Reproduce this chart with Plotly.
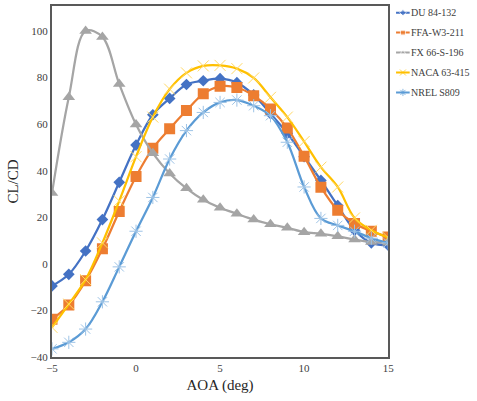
import plotly.graph_objects as go

aoa = list(range(-5, 16))

du_84_132 = [-9.5, -4.5, 5.5, 19, 35, 51, 64, 71, 77, 78.6, 79.5, 77.8, 72.5, 64.5, 56, 46, 35.8, 25, 14.4, 9, 8]
ffa_w3_211 = [-23.8, -17.7, -7.3, 6.5, 22.5, 37.5, 49.6, 58, 65.8, 73, 76.2, 75.7, 72.2, 66.5, 58.3, 46.2, 32.9, 23, 17.3, 14, 11.5]
fx_66_s_196 = [30.4, 71.5, 100, 97.4, 77.2, 59.8, 47.5, 38.8, 32.4, 27.5, 24.1, 21.5, 19, 17, 15.5, 13.6, 12.9, 11.8, 10.4, 9.4, 9]
naca_63_415 = [-27.3, -17.3, -6.8, 9, 27, 46, 63, 75, 82, 85, 85.2, 83.8, 79.8, 71.5, 63, 52.5, 41.5, 33, 19.7, 14.4, 11.3]
nrel_s809 = [-36.5, -33.7, -28, -16.3, -1.3, 14, 28.5, 45, 57.2, 65, 69.3, 70.3, 67.9, 63.6, 52.2, 33, 19.5, 16.5, 14, 11, 9]

series_names = ["DU 84-132", "FFA-W3-211", "FX 66-S-196", "NACA 63-415", "NREL S809"]
series_values = [du_84_132, ffa_w3_211, fx_66_s_196, naca_63_415, nrel_s809]

styles = [
    ("#4472C4", "diamond", 9, "#4472C4"),
    ("#ED7D31", "square", 11, "#ED7D31"),
    ("#A5A5A5", "triangle-up", 11, "#A5A5A5"),
    ("#FFC000", "x-thin-open", 11, "#FFD966"),
    ("#5B9BD5", "asterisk-open", 11, "#9DC3E6"),
]

FONT = "Liberation Serif"

W, H = 477, 401
ML, MR, MT, MB = 52, 4, 5, 44
plot_w = W - ML - MR
frame_right_px = 393
legend_x0_px, legend_x1_px = 401, 415
legend_top_px, legend_step_px = 11.7, 20.0

fig = go.Figure()
for name, vals, (color, sym, size, mcolor) in zip(series_names, series_values, styles):
    marker = dict(symbol=sym, size=size, color=mcolor)
    if sym.endswith("-open"):
        marker["line"] = dict(color=mcolor, width=1)
    fig.add_trace(go.Scatter(
        x=aoa, y=vals, name=name, mode="lines+markers", showlegend=False,
        line=dict(color=color, width=2.25, shape="spline", smoothing=1.0),
        marker=marker, xaxis="x", yaxis="y",
    ))

# custom legend (swatches on an overlay axis measured in pixels from the top)
annotations = []
for i, (name, (color, sym, size, mcolor)) in enumerate(zip(series_names, styles)):
    row = legend_top_px + legend_step_px * i
    marker = dict(symbol=sym, size=[0, 5, 0], color=color)
    if sym.endswith("-open"):
        marker["line"] = dict(color=mcolor, width=1)
        marker["size"] = [0, 6, 0]
    fig.add_trace(go.Scatter(
        x=[0, 0.5, 1], y=[row] * 3, mode="lines+markers", showlegend=False,
        line=dict(color=color, width=2), marker=marker,
        xaxis="x2", yaxis="y2", hoverinfo="skip",
    ))
    annotations.append(dict(
        x=1, y=row, xref="x2", yref="y2", text=name, showarrow=False,
        xanchor="left", yanchor="middle", xshift=-1,
        font=dict(family=FONT, size=10, color="#404040"),
    ))

fig.update_layout(
    width=W, height=H,
    margin=dict(l=ML, r=MR, t=MT, b=MB),
    paper_bgcolor="white", plot_bgcolor="rgba(0,0,0,0)",
    font=dict(family=FONT, size=11, color="#404040"),
    showlegend=False,
    annotations=annotations,
    xaxis=dict(domain=[0, (frame_right_px - ML) / plot_w],
               range=[-5, 15], tickvals=[-5, 0, 5, 10, 15], showgrid=False,
               zeroline=False, showline=True, linecolor="#595959", linewidth=2,
               mirror=True, ticks="",
               title=dict(text="AOA (deg)", font=dict(family=FONT, size=15, color="#262626"), standoff=6),
               tickfont=dict(family=FONT, size=11, color="#404040")),
    yaxis=dict(range=[-40, 110.7], tickvals=[-40, -20, 0, 20, 40, 60, 80, 100], showgrid=False,
               zeroline=False, showline=True, linecolor="#595959", linewidth=2,
               mirror=True, ticks="",
               title=dict(text="CL/CD", font=dict(family=FONT, size=15, color="#262626"), standoff=8),
               tickfont=dict(family=FONT, size=11, color="#404040")),
    xaxis2=dict(domain=[(legend_x0_px - ML) / plot_w, (legend_x1_px - ML) / plot_w],
                range=[0, 1], visible=False, fixedrange=True),
    yaxis2=dict(domain=[0, 1], range=[H - MB, MT], visible=False, anchor="x2", fixedrange=True),
)
fig.write_html("out.html")
